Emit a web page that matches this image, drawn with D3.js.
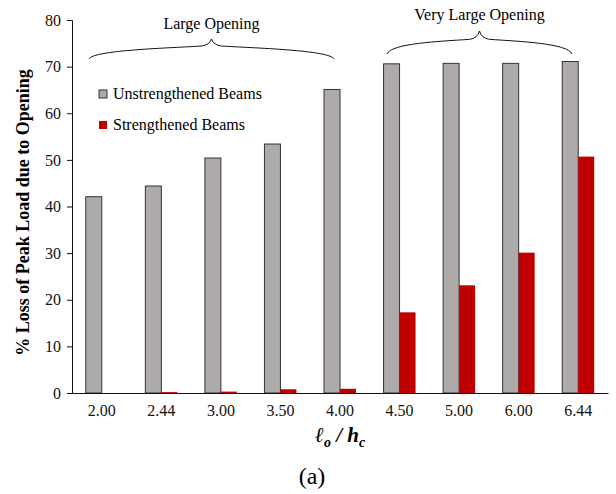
<!DOCTYPE html>
<html>
<head>
<meta charset="utf-8">
<script src="https://cdn.jsdelivr.net/npm/d3@7/dist/d3.min.js"></script>
<style>
  body { margin: 0; background: #fff; }
</style>
</head>
<body>
<div id="chart"></div>
<script>
// data
var ratios = ["2.00", "2.44", "3.00", "3.50", "4.00", "4.50", "5.00", "6.00", "6.44"];
var unstrengthened = [42.1, 44.4, 50.4, 53.4, 65.1, 70.6, 70.7, 70.7, 71.1];
var strengthened = [0, 0.2, 0.3, 0.8, 0.9, 17.3, 23.1, 30.1, 50.7];
var seriesNames = ["Unstrengthened Beams", "Strengthened Beams"];
var yTicks = [0, 10, 20, 30, 40, 50, 60, 70, 80];
var groupLabels = ["Large Opening", "Very Large Opening"];

var SERIF = "Liberation Serif";
var W = 616, H = 494;
var margin = { left: 72, right: 8, top: 20, bottom: 101 };

var svg = d3.select("#chart").append("svg")
    .attr("width", W)
    .attr("height", H)
    .attr("font-family", SERIF);

var x = d3.scaleBand().domain(ratios).range([margin.left, W - margin.right]).padding(0);
var y = d3.scaleLinear().domain([0, 80]).range([H - margin.bottom, margin.top]);
var colors = d3.scaleOrdinal().domain(seriesNames).range(["#aeaaa9", "#c00000"]);
var barW = 16;
var sub = d3.scaleBand().domain(seriesNames).range([-barW, barW]);

var rows = ratios.map(function(r, i) {
  return { r: r, vals: [unstrengthened[i], strengthened[i]] };
});

// bars
var g = svg.selectAll("g.cat")
    .data(rows)
    .enter().append("g")
    .attr("class", "cat")
    .attr("transform", function(d) { return "translate(" + (x(d.r) + x.bandwidth() / 2) + ",0)"; });

g.selectAll("rect")
    .data(function(d) { return d.vals.map(function(v, k) { return { s: seriesNames[k], v: v }; }); })
    .enter().append("rect")
    .attr("x", function(d) { return sub(d.s); })
    .attr("width", sub.bandwidth())
    .attr("y", function(d) { return y(d.v); })
    .attr("height", function(d) { return y(0) - y(d.v); })
    .attr("fill", function(d) { return colors(d.s); })
    .attr("stroke", function(d) { return d.s === seriesNames[0] ? "#333" : "none"; })
    .attr("stroke-width", 1);

// y axis
var yAxis = svg.append("g")
    .attr("transform", "translate(" + margin.left + ",0)")
    .call(d3.axisLeft(y).tickValues(yTicks).tickSize(5).tickPadding(6));
yAxis.attr("font-family", SERIF).attr("font-size", 16);
yAxis.selectAll("text").attr("fill", "#111");
yAxis.selectAll("line, path").attr("stroke", "#111");

// x axis
var xAxis = svg.append("g")
    .attr("transform", "translate(0," + y(0) + ")")
    .call(d3.axisBottom(x).tickSize(0).tickPadding(9).tickSizeOuter(0));
xAxis.attr("font-family", SERIF).attr("font-size", 16);
xAxis.selectAll("text").attr("fill", "#111").attr("dy", "0.85em");
xAxis.select(".domain").attr("stroke", "#111");

// titles
svg.append("text")
    .attr("transform", "translate(29," + ((margin.top + y(0)) / 2 + 6) + ") rotate(-90)")
    .attr("text-anchor", "middle")
    .attr("font-size", 18)
    .attr("font-weight", "bold")
    .text("% Loss of Peak Load due to Opening");

var xt = svg.append("text")
    .attr("x", 340)
    .attr("y", 442)
    .attr("text-anchor", "middle")
    .attr("font-size", 21)
    .attr("font-weight", "bold")
    .attr("font-style", "italic");
xt.append("tspan").text("\u2113");
xt.append("tspan").attr("dy", 5).attr("font-size", 14).text("o");
xt.append("tspan").attr("dy", -5).text(" / h");
xt.append("tspan").attr("dy", 5).attr("font-size", 14).text("c");

svg.append("text")
    .attr("x", 312)
    .attr("y", 484)
    .attr("text-anchor", "middle")
    .attr("font-size", 24)
    .text("(a)");

// legend
var leg = svg.selectAll("g.leg")
    .data(seriesNames)
    .enter().append("g")
    .attr("class", "leg")
    .attr("transform", function(d, i) { return "translate(99," + (90 + i * 31) + ")"; });
leg.append("rect")
    .attr("width", 8).attr("height", 8)
    .attr("fill", function(d) { return colors(d); })
    .attr("stroke", function(d, i) { return i === 0 ? "#333" : "none"; });
leg.append("text")
    .attr("x", 14).attr("y", 9)
    .attr("font-size", 16)
    .text(function(d) { return d; });

// braces over the groups
var braces = [
  { x1: 89, x2: 334, yb: 59, yt: 39, ty: 29 },
  { x1: 387, x2: 572, yb: 54, yt: 31, ty: 20 }
];

function bracePath(x1, x2, yb, yt) {
  var xm = (x1 + x2) / 2, ys = yt + (yb - yt) * 0.45;
  return "M" + x1 + "," + yb +
    " C" + (x1 + 4) + "," + (ys + 2) + " " + (xm - 40) + "," + ys + " " + (xm - 10) + "," + (ys - 2) +
    " Q" + (xm - 2) + "," + (ys - 3) + " " + xm + "," + yt +
    " Q" + (xm + 2) + "," + (ys - 3) + " " + (xm + 10) + "," + (ys - 2) +
    " C" + (xm + 40) + "," + ys + " " + (x2 - 4) + "," + (ys + 2) + " " + x2 + "," + yb;
}

braces.forEach(function(b, i) {
  svg.append("path")
      .attr("d", bracePath(b.x1, b.x2, b.yb, b.yt))
      .attr("fill", "none")
      .attr("stroke", "#111")
      .attr("stroke-width", 1);
  svg.append("text")
      .attr("x", (b.x1 + b.x2) / 2)
      .attr("y", b.ty)
      .attr("text-anchor", "middle")
      .attr("font-size", 16)
      .text(groupLabels[i]);
});

svg.selectAll("text").attr("font-family", SERIF).style("font-family", SERIF);
</script>
</body>
</html>
